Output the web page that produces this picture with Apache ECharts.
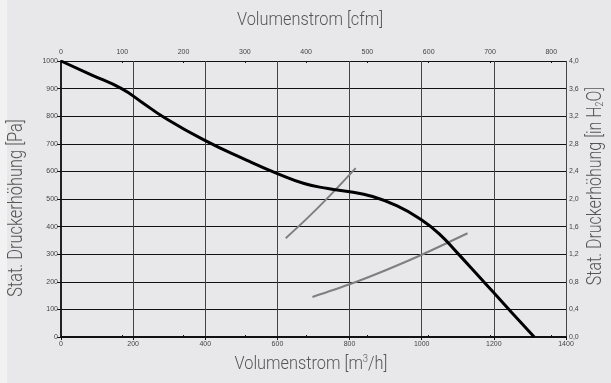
<!DOCTYPE html>
<html>
<head>
<meta charset="utf-8">
<script src="https://cdn.jsdelivr.net/npm/echarts@6/dist/echarts.min.js"></script>
<style>
  html, body { margin: 0; padding: 0; background: #e8e8ea; }
  #chart { width: 611px; height: 383px; }
</style>
</head>
<body>
<div id="chart"></div>
<script>
// Fan characteristic: static pressure rise vs. air flow
const flowTicks = [0, 200, 400, 600, 800, 1000, 1200, 1400];      // m³/h
const cfmTicks = [0, 100, 200, 300, 400, 500, 600, 700, 800];      // cfm
const fanCurve = [
  [0, 1000], [84, 950], [168, 900], [225, 850], [283, 798], [396, 714], [514, 641], [600, 592],
  [674, 556], [740, 538], [800, 526], [858, 511], [932, 475], [1000, 424], [1050, 372],
  [1100, 303], [1150, 232], [1200, 160], [1250, 88], [1312, 0]
];
const systemCurveA = [[623, 358], [680, 427], [740, 505], [817, 612]];
const systemCurveB = [[697, 145], [800, 191], [900, 242], [1000, 298], [1127, 376]];

const M3H_PER_CFM = 1.699;
const FONT = 'Roboto, "Liberation Sans", sans-serif';
const TXT = '#555';
const tickLabel = { fontSize: 7, color: '#444', fontFamily: '"Liberation Sans", sans-serif' };

const chart = echarts.init(document.getElementById('chart'), null, { renderer: 'canvas' });

chart.setOption({
  backgroundColor: '#e8e8ea',
  animation: false,
  grid: { left: 61, right: 45, top: 61, bottom: 46 },
  xAxis: [
    {
      type: 'value', position: 'bottom', min: 0, max: 1400, interval: 200,
      axisLine: { show: true, lineStyle: { color: '#111', width: 2 } },
      axisTick: { show: true, length: 3, lineStyle: { color: '#111' } },
      axisLabel: Object.assign({ margin: 4, customValues: flowTicks, formatter: v => String(v) }, tickLabel),
      splitLine: { show: true, lineStyle: { color: '#444', width: 1 } }
    },
    {
      type: 'value', position: 'top', min: 0, max: 1400 / M3H_PER_CFM,
      axisLine: { show: true, lineStyle: { color: '#111', width: 1 } },
      axisTick: { show: true, length: 2, customValues: cfmTicks, lineStyle: { color: '#111' } },
      axisLabel: Object.assign({ margin: 5, customValues: cfmTicks, formatter: v => String(v) }, tickLabel),
      splitLine: { show: false }
    },
    {
      type: 'value', position: 'top', min: 0, max: 1400 / M3H_PER_CFM,
      axisLine: { show: false },
      axisTick: { show: true, inside: true, length: 2, customValues: cfmTicks, lineStyle: { color: '#111' } },
      axisLabel: { show: false },
      splitLine: { show: false }
    }
  ],
  yAxis: [
    {
      type: 'value', position: 'left', min: 0, max: 1000, interval: 100,
      axisLine: { show: true, lineStyle: { color: '#111', width: 1 } },
      axisTick: { show: true, length: 4, lineStyle: { color: '#111' } },
      axisLabel: Object.assign({ margin: 3, formatter: v => String(v) }, tickLabel),
      splitLine: { show: true, lineStyle: { color: '#111', width: 1 } }
    },
    {
      type: 'value', position: 'right', min: 0, max: 4, interval: 0.4,
      axisLine: { show: true, lineStyle: { color: '#222', width: 2 } },
      axisTick: { show: true, length: 3, lineStyle: { color: '#111' } },
      axisLabel: Object.assign({
        margin: 3,
        formatter: v => v.toFixed(1).replace('.', ',')
      }, tickLabel),
      splitLine: { show: false }
    }
  ],
  series: [
    {
      type: 'line', data: systemCurveA, xAxisIndex: 0, yAxisIndex: 0,
      smooth: 0.3, symbol: 'none',
      lineStyle: { color: '#7f7f7f', width: 2 }
    },
    {
      type: 'line', data: systemCurveB, xAxisIndex: 0, yAxisIndex: 0,
      smooth: 0.3, symbol: 'none',
      lineStyle: { color: '#7f7f7f', width: 2 }
    },
    {
      type: 'line', data: fanCurve, xAxisIndex: 0, yAxisIndex: 0,
      smooth: 0.5, symbol: 'none',
      lineStyle: { color: '#000', width: 3 }
    }
  ],
  graphic: [
    { type: 'rect', left: 0, top: 0, z: -10, shape: { width: 7, height: 383 }, style: { fill: '#f2f2f3' } },
    {
      type: 'text', x: 310, y: 20, scaleX: 0.86,
      style: {
        text: 'Volumenstrom [cfm]', fontSize: 19, fontWeight: 300, fontFamily: FONT, fill: TXT,
        align: 'center', verticalAlign: 'middle'
      }
    },
    {
      type: 'text', x: 311, y: 364, scaleX: 0.86,
      style: {
        text: '{a|Volumenstrom [m}{s|3}{a|/h]}',
        align: 'center', verticalAlign: 'middle',
        rich: {
          a: { fontSize: 19, fontWeight: 300, fontFamily: FONT, fill: TXT, lineHeight: 22 },
          s: { fontSize: 11, fontWeight: 300, fontFamily: FONT, fill: TXT, lineHeight: 22, padding: [0, 0, 9, 0] }
        }
      }
    },
    {
      type: 'text', x: 17, y: 208, rotation: Math.PI / 2, scaleX: 0.82,
      style: {
        text: 'Stat. Druckerhöhung [Pa]', fontSize: 20, fontWeight: 300, fontFamily: FONT, fill: TXT,
        align: 'center', verticalAlign: 'middle'
      }
    },
    {
      type: 'text', x: 596, y: 186, rotation: Math.PI / 2, scaleX: 0.8,
      style: {
        text: '{a|Stat. Druckerhöhung [in H}{s|2}{a|O]}',
        align: 'center', verticalAlign: 'middle',
        rich: {
          a: { fontSize: 20, fontWeight: 300, fontFamily: FONT, fill: TXT, lineHeight: 24 },
          s: { fontSize: 11, fontWeight: 300, fontFamily: FONT, fill: TXT, lineHeight: 24, padding: [8, 0, 0, 0] }
        }
      }
    }
  ]
});
</script>
</body>
</html>
